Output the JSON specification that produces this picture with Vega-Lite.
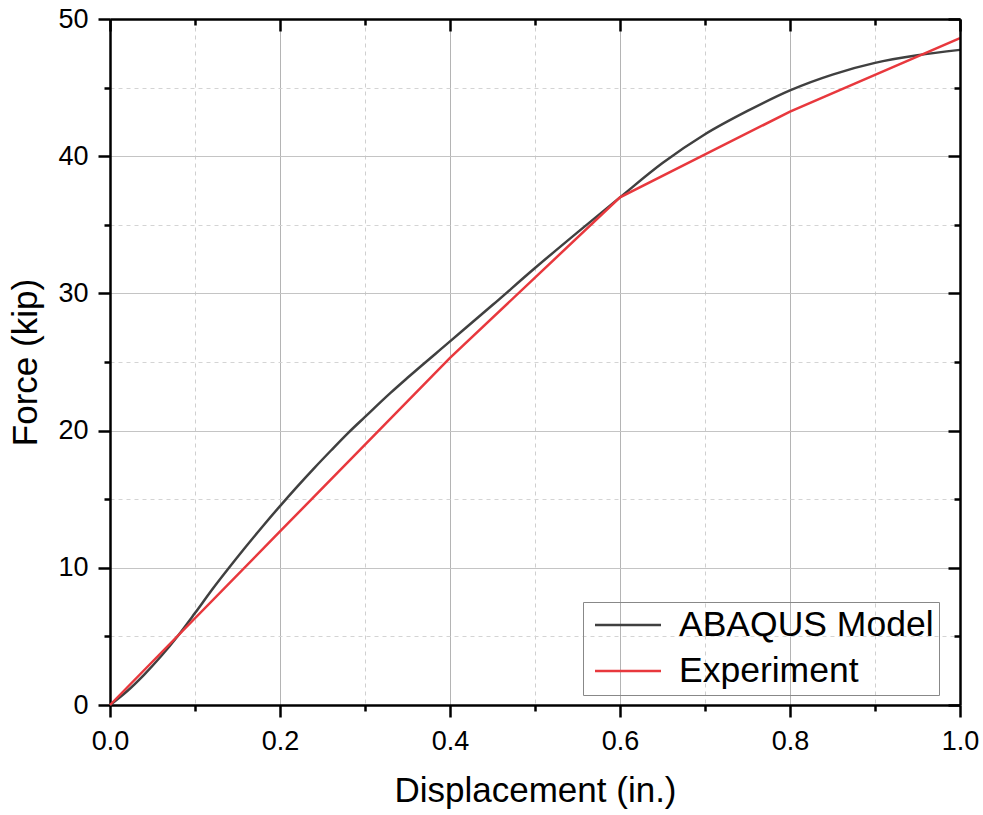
{
  "$schema": "https://vega.github.io/schema/vega-lite/v6.json",
  "width": 850,
  "height": 686,
  "autosize": {"type": "none"},
  "padding": {"left": 110, "top": 19, "right": 23, "bottom": 110},
  "background": "white",
  "view": {"stroke": null},
  "config": {
    "font": "Liberation Sans",
    "axis": {"labelFont": "Liberation Sans", "titleFont": "Liberation Sans", "labelColor": "black", "titleColor": "black", "domainColor": "black", "tickColor": "black"}
  },
  "datasets": {
    "abaqus": [
      {"d": 0.0, "f": 0.0, "series": "ABAQUS Model"},
      {"d": 0.02, "f": 1.0, "series": "ABAQUS Model"},
      {"d": 0.04, "f": 2.2, "series": "ABAQUS Model"},
      {"d": 0.06, "f": 3.55, "series": "ABAQUS Model"},
      {"d": 0.08, "f": 5.05, "series": "ABAQUS Model"},
      {"d": 0.1, "f": 6.7, "series": "ABAQUS Model"},
      {"d": 0.12, "f": 8.4, "series": "ABAQUS Model"},
      {"d": 0.14, "f": 10.0, "series": "ABAQUS Model"},
      {"d": 0.16, "f": 11.55, "series": "ABAQUS Model"},
      {"d": 0.18, "f": 13.05, "series": "ABAQUS Model"},
      {"d": 0.2, "f": 14.5, "series": "ABAQUS Model"},
      {"d": 0.22, "f": 15.9, "series": "ABAQUS Model"},
      {"d": 0.24, "f": 17.25, "series": "ABAQUS Model"},
      {"d": 0.26, "f": 18.55, "series": "ABAQUS Model"},
      {"d": 0.28, "f": 19.82, "series": "ABAQUS Model"},
      {"d": 0.3, "f": 21.0, "series": "ABAQUS Model"},
      {"d": 0.33, "f": 22.75, "series": "ABAQUS Model"},
      {"d": 0.35, "f": 23.85, "series": "ABAQUS Model"},
      {"d": 0.4, "f": 26.5, "series": "ABAQUS Model"},
      {"d": 0.45, "f": 29.15, "series": "ABAQUS Model"},
      {"d": 0.5, "f": 31.85, "series": "ABAQUS Model"},
      {"d": 0.55, "f": 34.45, "series": "ABAQUS Model"},
      {"d": 0.6, "f": 37.0, "series": "ABAQUS Model"},
      {"d": 0.65, "f": 39.5, "series": "ABAQUS Model"},
      {"d": 0.7, "f": 41.6, "series": "ABAQUS Model"},
      {"d": 0.75, "f": 43.3, "series": "ABAQUS Model"},
      {"d": 0.8, "f": 44.8, "series": "ABAQUS Model"},
      {"d": 0.85, "f": 45.95, "series": "ABAQUS Model"},
      {"d": 0.9, "f": 46.8, "series": "ABAQUS Model"},
      {"d": 0.95, "f": 47.35, "series": "ABAQUS Model"},
      {"d": 1.0, "f": 47.75, "series": "ABAQUS Model"}
    ],
    "experiment": [
      {"d": 0.0, "f": 0.0, "series": "Experiment"},
      {"d": 0.2, "f": 12.65, "series": "Experiment"},
      {"d": 0.4, "f": 25.3, "series": "Experiment"},
      {"d": 0.6, "f": 37.0, "series": "Experiment"},
      {"d": 0.8, "f": 43.25, "series": "Experiment"},
      {"d": 1.0, "f": 48.6, "series": "Experiment"}
    ]
  },
  "layer": [
    {
      "data": {"name": "abaqus"},
      "mark": {"type": "line", "opacity": 0, "color": "white"},
      "encoding": {
        "x": {
          "field": "d", "type": "quantitative",
          "scale": {"domain": [0, 1], "nice": false, "zero": false},
          "axis": {
            "orient": "bottom", "title": null, "labels": false, "domain": false,
            "values": [0.1, 0.3, 0.5, 0.7, 0.9],
            "ticks": true, "tickSize": 6, "tickWidth": 2.5,
            "grid": true, "gridColor": "#cfcfcf", "gridDash": [4, 4], "gridWidth": 1,
            "minExtent": 0, "maxExtent": 0
          }
        },
        "y": {
          "field": "f", "type": "quantitative",
          "scale": {"domain": [0, 50], "nice": false},
          "axis": {
            "orient": "left", "title": null, "labels": false, "domain": false,
            "values": [5, 15, 25, 35, 45],
            "ticks": true, "tickSize": 6, "tickWidth": 2.5,
            "grid": true, "gridColor": "#d4d4d4", "gridDash": [4, 4], "gridWidth": 1,
            "minExtent": 0, "maxExtent": 0
          }
        }
      }
    },
    {
      "data": {"name": "abaqus"},
      "mark": {"type": "line", "interpolate": "monotone", "strokeWidth": 2.5},
      "encoding": {
        "x": {
          "field": "d", "type": "quantitative",
          "axis": {
            "orient": "bottom",
            "title": "Displacement (in.)",
            "titleFontSize": 35, "titleFontWeight": "normal", "titlePadding": 19,
            "values": [0, 0.2, 0.4, 0.6, 0.8, 1.0],
            "format": ".1f",
            "labelFontSize": 27, "labelPadding": 11, "labelFlush": false, "labelOverlap": false,
            "domainWidth": 2.5, "tickWidth": 2.5, "tickSize": 12,
            "grid": true, "gridColor": "#b4b4b4", "gridWidth": 1
          }
        },
        "y": {
          "field": "f", "type": "quantitative",
          "axis": {
            "orient": "left",
            "title": "Force (kip)",
            "titleFontSize": 35, "titleFontWeight": "normal", "titlePadding": 14,
            "values": [0, 10, 20, 30, 40, 50],
            "labelFontSize": 27, "labelPadding": 10, "labelFlush": false, "labelOverlap": false,
            "domainWidth": 2.5, "tickWidth": 2.5, "tickSize": 12,
            "grid": true, "gridColor": "#c4c4c4", "gridWidth": 1
          }
        },
        "color": {
          "field": "series", "type": "nominal",
          "scale": {"domain": ["ABAQUS Model", "Experiment"], "range": ["#404040", "#e8383d"]},
          "legend": {
            "title": null,
            "orient": "none",
            "legendX": 473,
            "legendY": 583,
            "symbolType": "M-2,0H2",
            "symbolSize": 1089,
            "symbolStrokeWidth": 2.5,
            "symbolOffset": 22,
            "labelFontSize": 35.5,
            "labelFont": "Liberation Sans",
            "labelColor": "black",
            "labelOffset": 33,
            "rowPadding": 9,
            "padding": 5,
            "strokeColor": "#888888",
            "labelLimit": 400
          }
        }
      }
    },
    {
      "data": {"name": "experiment"},
      "mark": {"type": "line", "interpolate": "linear", "strokeWidth": 2.5},
      "encoding": {
        "x": {
          "field": "d", "type": "quantitative",
          "axis": {
            "orient": "top", "title": null, "labels": false, "grid": false, "zindex": 1,
            "values": [0, 0.2, 0.4, 0.6, 0.8, 1.0],
            "domainWidth": 2.5, "tickWidth": 2.5, "tickSize": -12,
            "minExtent": 0, "maxExtent": 0
          }
        },
        "y": {
          "field": "f", "type": "quantitative",
          "axis": {
            "orient": "right", "title": null, "labels": false, "grid": false, "zindex": 1,
            "values": [0, 10, 20, 30, 40, 50],
            "domainWidth": 2.5, "tickWidth": 2.5, "tickSize": -12,
            "minExtent": 0, "maxExtent": 0
          }
        },
        "color": {"field": "series", "type": "nominal"}
      }
    },
    {
      "data": {"name": "experiment"},
      "mark": {"type": "line", "opacity": 0, "color": "white"},
      "encoding": {
        "x": {
          "field": "d", "type": "quantitative",
          "axis": {
            "orient": "top", "title": null, "labels": false, "grid": false, "domain": false, "zindex": 1,
            "values": [0.1, 0.3, 0.5, 0.7, 0.9],
            "tickWidth": 2.5, "tickSize": -6,
            "minExtent": 0, "maxExtent": 0
          }
        },
        "y": {
          "field": "f", "type": "quantitative",
          "axis": {
            "orient": "right", "title": null, "labels": false, "grid": false, "domain": false, "zindex": 1,
            "values": [5, 15, 25, 35, 45],
            "tickWidth": 2.5, "tickSize": -6,
            "minExtent": 0, "maxExtent": 0
          }
        }
      }
    }
  ],
  "resolve": {"axis": {"x": "independent", "y": "independent"}}
}
